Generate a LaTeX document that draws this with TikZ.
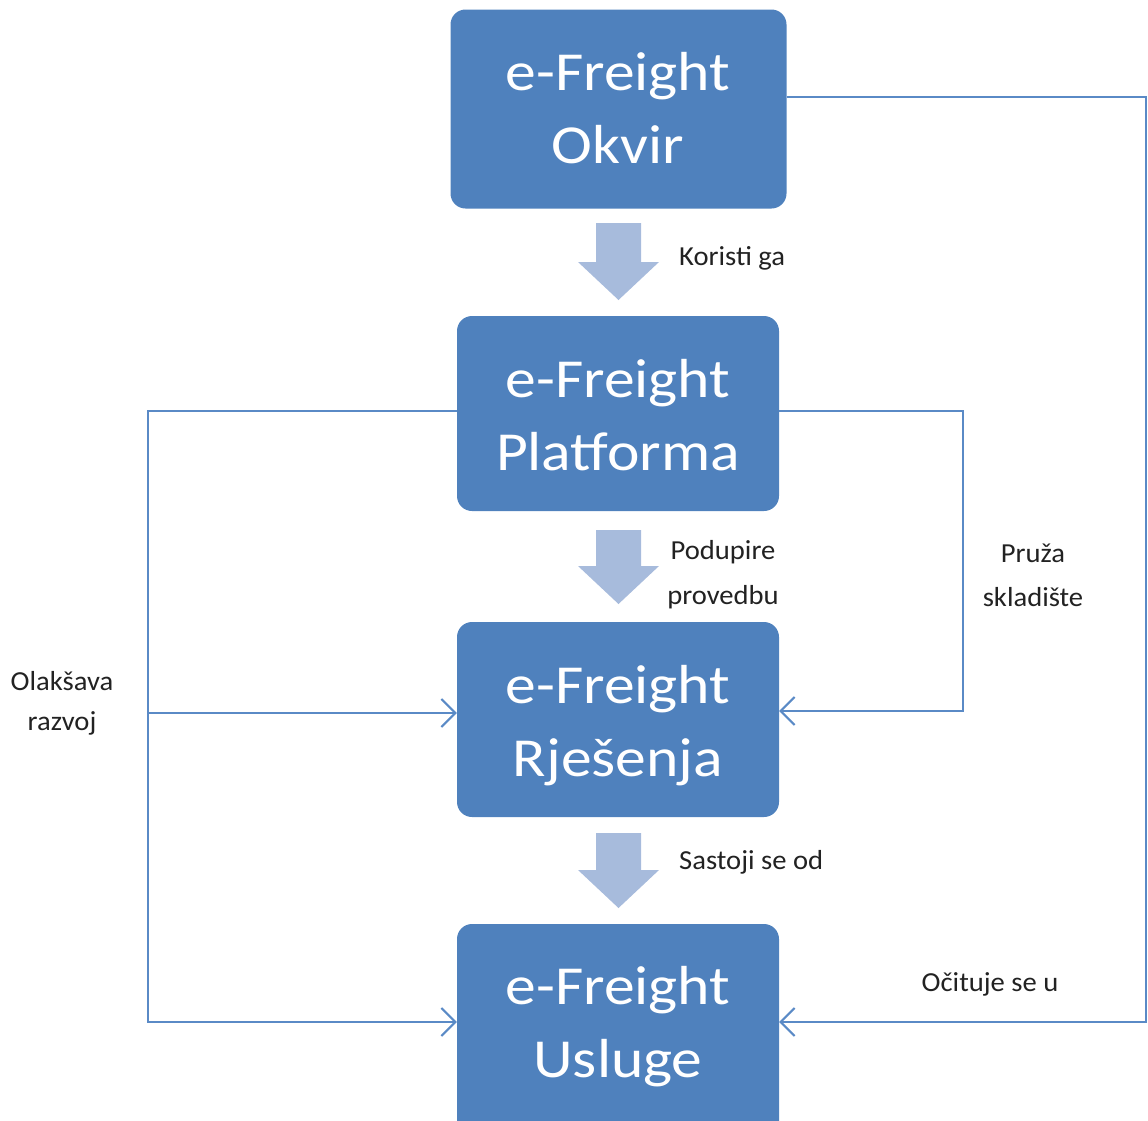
\documentclass[tikz,border=0pt]{standalone}
\usepackage{fontspec}
\setmainfont{Carlito}
\newfontfamily\boxfont[FakeStretch=1.12]{Carlito}
\newfontfamily\lblfont[FakeStretch=1.04]{Carlito}
\usetikzlibrary{arrows.meta}
\definecolor{boxblue}{HTML}{4F81BD}
\definecolor{arrowfill}{HTML}{A7BBDC}
\definecolor{linkblue}{HTML}{5A8AC6}
\definecolor{labelgray}{HTML}{222222}
\tikzset{
  box/.style={draw=none, fill=boxblue, rounded corners=15pt, minimum width=322pt, minimum height=195pt, inner sep=0pt},
  btext/.style={text=white, font=\boxfont\fontsize{55}{64}\selectfont, anchor=base, inner sep=0pt},
  lbl/.style={text=labelgray, font=\lblfont\fontsize{27.5}{32}\selectfont, inner sep=0pt},
  link/.style={draw=linkblue, line width=2pt},
  linkarrow/.style={link, -{Straight Barb[length=14pt,width=28pt,line width=2pt]}},
  blockarrow/.style={fill=arrowfill, draw=none}
}
\begin{document}
\begin{tikzpicture}[x=1pt,y=-1pt]
\useasboundingbox (0,0) rectangle (1148,1120);
% boxes
\node[box, minimum width=336pt, minimum height=199pt] (b1) at (618.5,109) {};
\node[box] (b2) at (618,413.5) {};
\node[box] (b3) at (618,719.5) {};
\node[box, minimum height=215pt] (b4) at (618,1031.5) {};
% box texts
\node[btext] (t1a) at (618,90) {e-Freight};
\node[btext] (t1b) at (618,163) {Okvir};
\node[btext] (t2a) at (618,397) {e-Freight};
\node[btext] (t2b) at (618,470) {Platforma};
\node[btext] (t3a) at (618,703) {e-Freight};
\node[btext] (t3b) at (618,776) {Rješenja};
\node[btext] (t4a) at (618,1004) {e-Freight};
\node[btext] (t4b) at (618,1077) {Usluge};
% block arrows
\fill[blockarrow] (596,223) -- (641,223) -- (641,262) -- (659,262) -- (618.5,300) -- (578,262) -- (596,262) -- cycle;
\fill[blockarrow] (596,530) -- (641,530) -- (641,566) -- (659,566) -- (618.5,604) -- (578,566) -- (596,566) -- cycle;
\fill[blockarrow] (596,833) -- (641,833) -- (641,870) -- (659,870) -- (618.5,908) -- (578,870) -- (596,870) -- cycle;
% labels
\node[lbl, anchor=west] (l1) at (679,258) {Koristi ga};
\node[lbl] (l2a) at (723,552) {Podupire};
\node[lbl] (l2b) at (723,597) {provedbu};
\node[lbl, anchor=west] (l3) at (679,862) {Sastoji se od};
\node[lbl] (l4a) at (1033,553) {Pruža};
\node[lbl] (l4b) at (1033,597) {skladište};
\node[lbl] (l5a) at (62,681) {Olakšava};
\node[lbl] (l5b) at (62,723) {razvoj};
\node[lbl] (l6) at (990,984) {Očituje se u};
% connector corners
\coordinate (c1) at (1146,97);
\coordinate (c2) at (148,411);
\coordinate (c3) at (963,411);
\coordinate (c4) at (148,713);
\coordinate (e1) at (0,1022);
\coordinate (e3) at (0,711);
% connectors
\draw[linkarrow] (b1.east |- c1) -- (c1) |- (b4.east |- e1);
\draw[linkarrow] (b2.west |- c2) -- (c2) |- (b4.west |- e1);
\draw[linkarrow] (c4) -- (b3.west |- c4);
\draw[linkarrow] (b2.east |- c3) -- (c3) |- (b3.east |- e3);
\end{tikzpicture}
\end{document}
